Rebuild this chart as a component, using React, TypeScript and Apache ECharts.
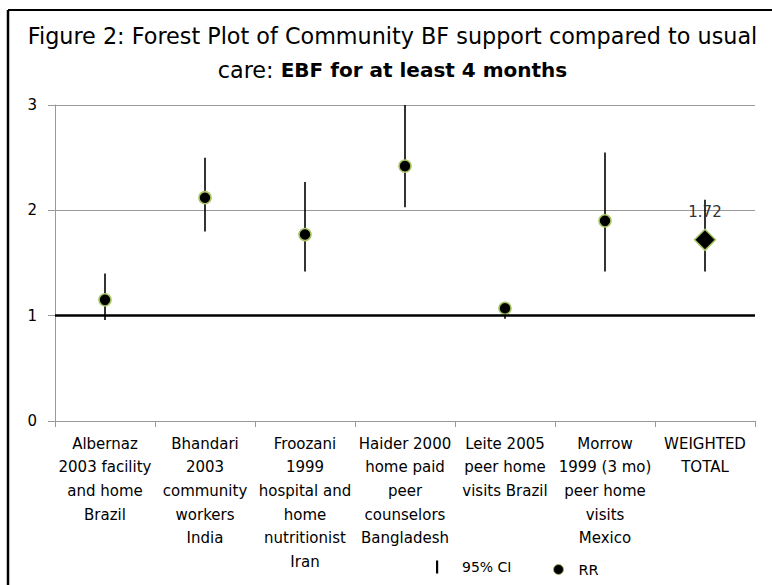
import React, { useEffect, useRef } from "react";
import * as echarts from "echarts";

const categories = [
  "Albernaz\n2003 facility\nand home\nBrazil",
  "Bhandari\n2003\ncommunity\nworkers\nIndia",
  "Froozani\n1999\nhospital and\nhome\nnutritionist\nIran",
  "Haider 2000\nhome paid\npeer\ncounselors\nBangladesh",
  "Leite 2005\npeer home\nvisits Brazil",
  "Morrow\n1999 (3 mo)\npeer home\nvisits\nMexico",
  "WEIGHTED\nTOTAL",
];
const rr = [1.15, 2.12, 1.77, 2.42, 1.07, 1.9, 1.72];
const ciLow = [0.96, 1.8, 1.42, 2.03, 0.97, 1.42, 1.42];
const ciHigh = [1.4, 2.5, 2.27, 3.0, 1.13, 2.55, 2.1];
const yTicks = { min: 0, max: 3, interval: 1 };

const FONT = "'DejaVu Sans', sans-serif";

export default function App() {
  const ref = useRef<HTMLDivElement>(null);
  useEffect(() => {
    document.body.style.margin = "0";
    const chart = echarts.init(ref.current!, null, { renderer: "svg" });
    const last = rr.length - 1;
    chart.setOption({
      animation: false,
      textStyle: { fontFamily: FONT },
      title: {
        left: 387.5,
        top: 14,
        textAlign: "center",
        padding: 5,
        text:
          "Figure 2: Forest Plot of Community BF support compared to usual\ncare: {b|EBF for at least 4 months}",
        textStyle: {
          fontFamily: FONT,
          fontSize: 22.3,
          fontWeight: "normal",
          color: "#000",
          lineHeight: 34,
          rich: {
            b: { fontFamily: FONT, fontSize: 20, fontWeight: "bold", color: "#000", lineHeight: 34 },
          },
        },
      },
      legend: [
        {
          left: 412,
          top: 554.5,
          itemWidth: 40,
          itemHeight: 15,
          selectedMode: false,
          textStyle: { fontFamily: FONT, fontSize: 14, color: "#000" },
          data: [
            {
              name: "95% CI",
              icon: "path://M0,0M40,15M19,1h2.2v13h-2.2z",
              itemStyle: { color: "#000", borderWidth: 0 },
            },
          ],
        },
        {
          left: 538,
          top: 557,
          itemWidth: 30,
          itemHeight: 10,
          selectedMode: false,
          textStyle: { fontFamily: FONT, fontSize: 14.5, color: "#000" },
          data: [
            {
              name: "RR",
              icon: "path://M0,0M30,10M15,0A5,5,0,1,1,15,10A5,5,0,1,1,15,0Z",
              itemStyle: { color: "#000", borderColor: "#9bbb59", borderWidth: 1 },
            },
          ],
        },
      ],
      graphic: [
        { type: "line", shape: { x1: 8, y1: 10, x2: 8, y2: 585 }, style: { stroke: "#000", lineWidth: 2.5 } },
        { type: "line", shape: { x1: 8, y1: 10, x2: 772, y2: 10 }, style: { stroke: "#000", lineWidth: 2 } },
      ],
      grid: { left: 55, right: 17, top: 105, bottom: 164, containLabel: false },
      xAxis: {
        type: "category",
        data: categories,
        boundaryGap: true,
        axisLine: { lineStyle: { color: "#999", width: 1 } },
        axisTick: { show: true, length: 6, lineStyle: { color: "#999" }, alignWithLabel: false },
        axisLabel: {
          interval: 0,
          margin: 11,
          fontFamily: FONT,
          fontSize: 15,
          lineHeight: 23.6,
          color: "#000",
          align: "center",
        },
        splitLine: { show: false },
      },
      yAxis: {
        type: "value",
        min: yTicks.min,
        max: yTicks.max,
        interval: yTicks.interval,
        axisLine: { show: true, lineStyle: { color: "#999", width: 1 } },
        axisTick: { show: true, length: 7, lineStyle: { color: "#999" } },
        axisLabel: { margin: 18, fontFamily: FONT, fontSize: 15, color: "#000" },
        splitLine: { show: true, lineStyle: { color: "#999", width: 1 } },
      },
      series: [
        {
          name: "95% CI",
          type: "custom",
          z: 2,
          data: ciLow.map((lo, i) => [i, lo, ciHigh[i]]),
          encode: { x: 0, y: [1, 2] },
          renderItem: (params: any, api: any) => {
            const x = api.value(0);
            const a = api.coord([x, api.value(1)]);
            const b = api.coord([x, api.value(2)]);
            return {
              type: "line",
              shape: { x1: a[0], y1: a[1], x2: b[0], y2: b[1] },
              style: { stroke: "#000", lineWidth: 1.6 },
            };
          },
          markLine: {
            silent: true,
            symbol: "none",
            label: { show: false },
            lineStyle: { color: "#000", width: 2.5, type: "solid" },
            data: [{ yAxis: 1 }],
          },
        },
        {
          name: "RR",
          type: "scatter",
          z: 3,
          symbol: "circle",
          symbolSize: 12,
          itemStyle: { color: "#000", borderColor: "#a8c464", borderWidth: 1.5, opacity: 1 },
          data: rr.map((v, i) =>
            i === last
              ? {
                  value: [i, v],
                  symbol: "diamond",
                  symbolSize: [21, 21],
                  label: {
                    show: true,
                    position: "top",
                    distance: 9,
                    formatter: (p: any) => p.value[1].toFixed(2),
                    fontFamily: FONT,
                    fontSize: 15,
                    color: "#333",
                  },
                }
              : { value: [i, v] }
          ),
        },
      ],
    });
    return () => chart.dispose();
  }, []);
  return <div ref={ref} style={{ width: 772, height: 585 }} />;
}
